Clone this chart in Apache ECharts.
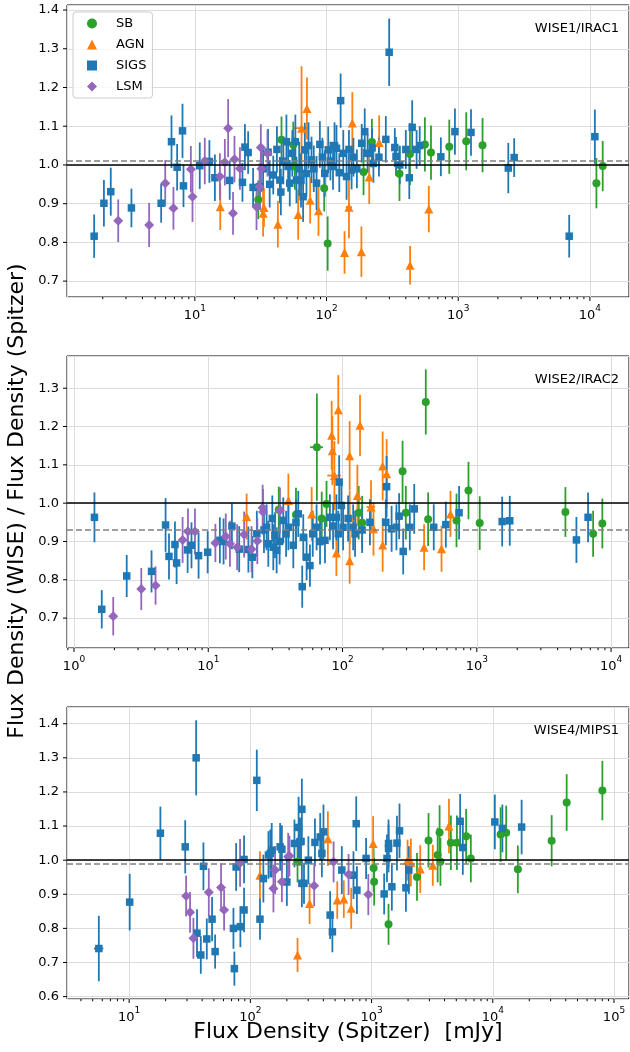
<!DOCTYPE html>
<html>
<head>
<meta charset="utf-8">
<title>WISE / Spitzer flux density ratios</title>
<script src="https://cdn.jsdelivr.net/npm/echarts@6/dist/echarts.min.js"></script>
<style>
  html, body { margin: 0; padding: 0; background: #fff; }
  #chart { width: 630px; height: 1052px; }
</style>
</head>
<body>
<div id="chart"></div>
<script>
// Each point: [Spitzer flux density (mJy), WISE/Spitzer ratio, ratio error, optional flux error]

// ---- WISE1 / IRAC1 ----
const W1_SB = [
  [30.3,0.910,0.05],[45.5,1.065,0.06],[55.9,1.052,0.06],[57.5,0.996,0.06],[96,0.940,0.06],
  [102,0.797,0.07],[191,0.982,0.06],[221,1.059,0.06],[358,0.977,0.07],[430,1.028,0.08],
  [558,1.053,0.07],[621,1.032,0.07],[855,1.047,0.07],[1150,1.061,0.075],[1530,1.051,0.07],
  [11200,0.953,0.065],[12500,0.997,0.065]
];
const W1_AGN = [
  [15.6,0.892,0.06],[33,0.875,0.06],[33.5,0.890,0.05],[42.7,0.847,0.06],[60.9,0.872,0.065],
  [64.6,1.095,0.16,8],[71,1.146,0.08],[75.1,0.909,0.06],[86.9,0.882,0.065],[137,0.774,0.055],
  [148,0.891,0.08,8],[157,1.108,0.08],[184,0.776,0.065],[211,0.969,0.07],[251,1.058,0.07],
  [431,0.741,0.05],[598,0.886,0.06]
];
const W1_SIGS = [
  [1.72,0.816,0.056],[2.04,0.901,0.06],[2.30,0.931,0.062],[3.30,0.889,0.05],[5.55,0.901,0.05],
  [6.65,1.060,0.068],[7.34,0.994,0.06],[8.06,1.088,0.07],[8.2,0.946,0.055],[10.9,0.998,0.06],
  [12.9,1.009,0.055],[14.2,0.967,0.06],[18.4,0.960,0.05],[23.0,0.955,0.05],[24.0,1.046,0.06],
  [25.4,1.032,0.055],[27.7,0.942,0.05],[31.2,0.944,0.06],[33,0.990,0.05],[36,1.033,0.06],
  [37,0.950,0.06],[39.4,0.974,0.05],[42,1.040,0.06],[44.2,0.961,0.06],[45,0.930,0.06],
  [47,1.010,0.06],[49.6,1.060,0.07],[51.1,0.996,0.065],[52.6,0.953,0.06],[55,1.030,0.06],
  [58,1.060,0.07],[59.1,0.961,0.06],[62,0.990,0.07],[64,0.960,0.07],[66.4,0.918,0.065],
  [68.4,1.039,0.07],[70.4,0.978,0.06],[73,1.050,0.06],[76.9,1.013,0.06],[80,0.990,0.06],
  [84,0.953,0.07],[89,1.053,0.06],[93,1.020,0.05],[97,0.978,0.06],[103,1.039,0.06],
  [107,1.010,0.05],[112,0.996,0.06],[115,1.050,0.06],[119,1.043,0.06],[125,0.980,0.05],
  [128,1.166,0.07],[134,1.030,0.06],[142,0.970,0.06],[148,1.040,0.05],[155,0.987,0.05],
  [160,1.020,0.05],[170,0.990,0.05],[185,1.056,0.05],[195,1.086,0.06],[205,1.030,0.05],
  [222,1.044,0.05],[227,1.004,0.05],[250,1.020,0.05],[282,1.066,0.06],[299,1.291,0.087],
  [330,1.045,0.05],[337,1.022,0.05],[360,1.000,0.05],[400,1.040,0.05],[425,0.967,0.055],
  [447,1.097,0.07],[483,1.040,0.05],[510,1.050,0.05],[738,1.021,0.05],[944,1.086,0.06],
  [1250,1.084,0.06],[2400,0.992,0.065],[2660,1.019,0.05],[6960,0.816,0.055],[10900,1.073,0.07]
];
const W1_LSM = [
  [2.62,0.856,0.055],[4.5,0.845,0.057],[5.96,0.953,0.06],[6.88,0.888,0.055],[9.33,0.989,0.06],
  [9.6,0.918,0.065],[11.9,1.010,0.06],[15.5,0.970,0.06],[16.9,1.007,0.06],[17.9,1.095,0.075],
  [19.5,0.875,0.055],[20,1.015,0.06],[22,0.991,0.055],[29.4,0.892,0.06],[31,0.944,0.06],
  [31.7,1.045,0.06],[32,0.990,0.06],[35.6,1.030,0.06]
];

// ---- WISE2 / IRAC2 ----
const W2_SB = [
  [33.5,0.983,0.06],[45,0.970,0.07],[64.4,1.146,0.14,7],[70,0.960,0.07],[76,0.998,0.06],
  [132,0.975,0.07],[140,0.949,0.07],[280,1.083,0.08],[296,0.975,0.07],[417,1.264,0.085],
  [434,0.958,0.07],[706,0.955,0.07],[867,1.033,0.075],[1051,0.948,0.07],[4570,0.977,0.065],
  [7350,0.920,0.06],[8610,0.947,0.065]
];
const W2_AGN = [
  [19.3,0.965,0.06],[39.5,1.007,0.07],[58.9,0.972,0.07],[83,1.177,0.09],[84,1.137,0.09],
  [87,1.072,0.09,10],[90,0.870,0.06],[93,1.244,0.09],[113,1.124,0.09],[113,0.963,0.07],
  [113,0.850,0.06],[129,1.020,0.08],[135,1.203,0.08],[163,0.990,0.07,12],[170,0.933,0.07],
  [199,1.097,0.09],[199,0.891,0.07],[213,1.077,0.09],[405,0.885,0.06],[546,0.881,0.06],
  [637,0.972,0.06]
];
const W2_SIGS = [
  [1.42,0.963,0.065],[1.61,0.723,0.05],[2.47,0.810,0.055],[3.78,0.822,0.055],[4.81,0.943,0.07],
  [5.1,0.861,0.06],[5.65,0.892,0.06],[5.81,0.844,0.055],[7.02,0.878,0.06],[7.5,0.890,0.06],
  [8.47,0.863,0.06],[9.9,0.872,0.055],[12.2,0.903,0.06],[13,0.900,0.06],[15,0.940,0.06],
  [17,0.880,0.06],[19.9,0.879,0.06],[21.3,0.859,0.055],[23,0.920,0.06],[26,0.930,0.06],
  [27.2,0.937,0.06],[28,0.894,0.06],[30,0.960,0.06],[30.5,0.885,0.06],[31.4,0.916,0.06],
  [32.3,0.877,0.06],[34,0.900,0.06],[36.2,0.955,0.06],[38,0.920,0.06],[39.5,0.937,0.06],
  [43,0.890,0.06],[45,0.950,0.06],[46.8,0.972,0.06],[50.1,0.782,0.055],[51,0.911,0.06],
  [54,0.859,0.06],[57.2,0.837,0.055],[60,0.920,0.06],[64.1,0.937,0.06],[68,0.900,0.06],
  [74,0.903,0.06],[80.5,0.963,0.06],[85,0.940,0.06],[90,0.963,0.06],[93,0.920,0.06],
  [94.4,1.055,0.07],[98,0.994,0.06],[101,0.937,0.06],[110,0.960,0.06],[120,0.937,0.06],
  [124,0.920,0.06],[140,0.930,0.06],[160,0.950,0.06],[210,0.950,0.06],[213,1.043,0.08],
  [232,0.933,0.06],[252,0.937,0.06],[264,0.966,0.06],[283,0.874,0.06],[317,0.937,0.06],
  [342,0.985,0.065],[478,0.937,0.06],[588,0.944,0.06],[738,0.975,0.07],[1545,0.952,0.065],
  [1760,0.954,0.065],[5520,0.904,0.06],[6740,0.963,0.065]
];
const W2_LSM = [
  [1.96,0.705,0.05],[3.17,0.776,0.055],[4.05,0.785,0.05],[6.44,0.904,0.06],[7.06,0.926,0.06],
  [7.96,0.926,0.06],[11.3,0.896,0.05],[13.5,0.913,0.06],[14.5,0.894,0.06],[16.4,0.885,0.06],
  [18.5,0.918,0.06],[21,0.880,0.06],[23.2,0.901,0.06],[25.4,0.988,0.06],[25.6,0.977,0.06],
  [34.2,0.981,0.06]
];

// ---- WISE4 / MIPS1 ----
const W4_SB = [
  [245,0.995,0.06],[1040,0.977,0.07],[1050,0.937,0.07],[1380,0.812,0.06],[2370,0.951,0.07],
  [2950,1.058,0.08],[3510,1.015,0.08],[3640,1.081,0.08],[3700,0.995,0.07],[4510,1.051,0.08],
  [5060,1.051,0.08],[6030,1.070,0.08],[6590,1.005,0.07],[11600,1.075,0.08],[12900,1.080,0.08],
  [16100,0.973,0.07],[30600,1.057,0.075],[40700,1.169,0.083],[80200,1.204,0.087]
];
const W4_AGN = [
  [120,0.956,0.07],[245,0.722,0.05],[308,0.873,0.06],[436,1.063,0.08],[521,0.883,0.055],
  [590,0.886,0.055],[679,0.859,0.06],[1030,1.049,0.08],[1980,1.000,0.06],[2110,0.993,0.07],
  [2520,0.974,0.07],[3200,0.985,0.06],[4350,1.100,0.08]
];
const W4_SIGS = [
  [5.62,0.741,0.096,0.5],[10.1,0.877,0.083],[18.1,1.079,0.078],[29,1.039,0.078],[35.7,1.300,0.11],
  [36.3,0.786,0.07],[39,0.722,0.055],[41,0.982,0.07],[43.7,0.769,0.06],[48.3,0.827,0.065],
  [51.2,0.732,0.05],[72.5,0.800,0.06],[73.8,0.682,0.05],[76.3,0.980,0.07],[82.7,0.805,0.06],
  [88.7,1.002,0.07],[88.7,0.854,0.065],[113,1.234,0.09],[120,0.827,0.06],[128,0.946,0.07],
  [141,1.015,0.07],[146,1.020,0.07],[150,1.029,0.08],[176,1.039,0.07],[182,1.032,0.07],
  [200,0.936,0.07],[231,1.049,0.07],[250,1.096,0.09],[256,1.054,0.07],[262,1.055,0.07],
  [266,1.149,0.09],[266,0.932,0.07],[277,0.932,0.06],[301,1.000,0.07],[341,1.052,0.07],
  [377,1.068,0.07],[389,1.020,0.07],[401,1.083,0.08],[455,0.839,0.07],[475,0.790,0.06],
  [568,0.971,0.07],[709,0.956,0.07],[747,1.107,0.08],[757,0.912,0.07],[901,1.005,0.06],
  [1270,0.901,0.06],[1340,1.005,0.07],[1380,1.049,0.07],[1380,1.034,0.07],[1470,0.922,0.07],
  [1620,1.050,0.08],[1700,1.086,0.08],[1920,0.919,0.07],[2030,0.971,0.07],[5380,1.114,0.08],
  [5660,1.037,0.08],[10400,1.112,0.08],[12000,1.093,0.07],[17300,1.097,0.08]
];
const W4_LSM = [
  [29.5,0.895,0.06],[31.8,0.847,0.06],[33.9,0.771,0.06],[45.4,0.906,0.07],[57.3,0.920,0.07],
  [60.7,0.854,0.06],[82.2,0.992,0.07],[155,0.917,0.07],[160,0.971,0.07],[182,0.937,0.06],
  [205,1.010,0.07],[210,1.012,0.06],[336,0.925,0.06],[486,0.995,0.06],[646,0.958,0.06],
  [940,0.899,0.06]
];

// Mean ratio of each band (dashed line)
const MEAN_RATIO = [1.006, 0.933, 0.992];
const PANEL_LABELS = ['WISE1/IRAC1', 'WISE2/IRAC2', 'WISE4/MIPS1'];
const CLASS_NAMES = ['SB', 'AGN', 'SIGS', 'LSM'];
const PANEL_DATA = [
  { SB: W1_SB, AGN: W1_AGN, SIGS: W1_SIGS, LSM: W1_LSM },
  { SB: W2_SB, AGN: W2_AGN, SIGS: W2_SIGS, LSM: W2_LSM },
  { SB: W4_SB, AGN: W4_AGN, SIGS: W4_SIGS, LSM: W4_LSM }
];
const X_RANGE = [[1.07, 19800], [0.887, 13600], [3.07, 133000]];
const Y_RANGE = [[0.659, 1.413], [0.622, 1.384], [0.593, 1.449]];

// Styling
const COLOR = { SB: '#2ca02c', AGN: '#ff7f0e', SIGS: '#1f77b4', LSM: '#9467bd' };
const SYMBOL = { SB: 'circle', AGN: 'triangle', SIGS: 'rect', LSM: 'diamond' };
const SYMBOL_SIZE = { SB: 8, AGN: 9, SIGS: 7.5, LSM: 10 };
const FONT = 'DejaVu Sans';
const GRID_TOPS = [5, 356, 707];
const GRID_LEFT = 67, GRID_W = 562, GRID_H = 292;
const LABEL_Y = [29, 380, 731];

const chart = echarts.init(document.getElementById('chart'), null, { renderer: 'canvas' });

function errRender(color) {
  return function (params, api) {
    const x = api.value(0), y = api.value(1), e = api.value(2), xe = api.value(3);
    const a = api.coord([x, y - e]), b = api.coord([x, y + e]);
    const style = { stroke: color, lineWidth: 1.8 };
    const children = [{ type: 'line', shape: { x1: a[0], y1: a[1], x2: b[0], y2: b[1] }, style }];
    if (xe > 0) {
      const c = api.coord([x - xe, y]), d = api.coord([x + xe, y]);
      children.push({ type: 'line', shape: { x1: c[0], y1: c[1], x2: d[0], y2: d[1] }, style });
    }
    return { type: 'group', children };
  };
}

// Tick marks on the log x axis (majors at decades, minors at 2..9) and on the y axis
function xTickValues(range) {
  const out = [];
  for (let k = Math.floor(Math.log10(range[0])); k <= Math.ceil(Math.log10(range[1])); k++) {
    for (let m = 1; m <= 9; m++) {
      const v = m * Math.pow(10, k);
      if (v >= range[0] && v <= range[1]) out.push([v, m === 1 ? 1 : 0]);
    }
  }
  return out;
}
function yTickValues(range) {
  const out = [];
  for (let t = Math.ceil(range[0] * 10); t <= Math.floor(range[1] * 10); t++) out.push(t / 10);
  return out;
}

const grids = [], xAxes = [], yAxes = [], series = [], graphics = [];

PANEL_DATA.forEach((panel, i) => {
  grids.push({
    left: GRID_LEFT, top: GRID_TOPS[i], width: GRID_W, height: GRID_H,
    show: true, borderColor: '#000', borderWidth: 1, backgroundColor: 'transparent'
  });
  xAxes.push({
    gridIndex: i, type: 'log', logBase: 10, min: X_RANGE[i][0], max: X_RANGE[i][1],
    axisLine: { show: false }, axisTick: { show: false },
    splitLine: { show: true, lineStyle: { color: '#dcdcdc', width: 1 } },
    axisLabel: {
      margin: 7, showMinLabel: false, showMaxLabel: false,
      formatter: function (v) {
        const e = Math.log10(v), r = Math.round(e);
        if (Math.abs(e - r) > 1e-6) return '';
        return '{b|10}{s|' + r + '}';
      },
      rich: {
        b: { fontSize: 13, fontFamily: FONT, color: '#000', lineHeight: 18, verticalAlign: 'bottom' },
        s: { fontSize: 9, fontFamily: FONT, color: '#000', lineHeight: 18, verticalAlign: 'top' }
      }
    }
  });
  yAxes.push({
    gridIndex: i, type: 'value', min: Y_RANGE[i][0], max: Y_RANGE[i][1], splitNumber: 8,
    axisLine: { show: false }, axisTick: { show: false },
    splitLine: { show: true, lineStyle: { color: '#dcdcdc', width: 1 } },
    axisLabel: {
      margin: 8, fontSize: 13, fontFamily: FONT, color: '#000',
      showMinLabel: false, showMaxLabel: false,
      formatter: function (v) {
        const r = Math.round(v * 10) / 10;
        return Math.abs(v - r) < 1e-6 ? r.toFixed(1) : '';
      }
    }
  });

  // error bars and markers, one pair per class
  CLASS_NAMES.forEach((cls) => {
    const pts = panel[cls].map(p => [p[0], p[1], p[2], p[3] || 0]);
    series.push({
      type: 'custom', name: cls + ' error', xAxisIndex: i, yAxisIndex: i,
      renderItem: errRender(COLOR[cls]), data: pts, encode: { x: 0, y: 1 },
      silent: true, z: 2
    });
    series.push({
      type: 'scatter', name: cls, xAxisIndex: i, yAxisIndex: i,
      symbol: SYMBOL[cls], symbolSize: SYMBOL_SIZE[cls],
      itemStyle: { color: COLOR[cls], opacity: 1 },
      data: pts.map(p => [p[0], p[1]]), silent: true, z: 2
    });
  });

  // reference lines: unity and band mean
  series.push({
    type: 'scatter', name: 'ref' + i, xAxisIndex: i, yAxisIndex: i, data: [], z: 5, silent: true,
    markLine: {
      silent: true, symbol: 'none', label: { show: false }, animation: false,
      data: [
        { yAxis: MEAN_RATIO[i], lineStyle: { color: '#808080', type: [6, 3], width: 1.5 } },
        { yAxis: 1.0, lineStyle: { color: '#000', type: 'solid', width: 1.5 } }
      ]
    }
  });

  // tick marks
  series.push({
    type: 'custom', name: 'xticks' + i, xAxisIndex: i, yAxisIndex: i, silent: true, z: 6,
    data: xTickValues(X_RANGE[i]).map(t => [t[0], Y_RANGE[i][0], t[1]]),
    encode: { x: 0, y: 1 },
    renderItem: function (params, api) {
      const p = api.coord([api.value(0), api.value(1)]);
      const len = api.value(2) ? 4 : 2.2;
      return { type: 'line', shape: { x1: p[0], y1: p[1], x2: p[0], y2: p[1] + len },
               style: { stroke: '#000', lineWidth: 1 } };
    }
  });
  series.push({
    type: 'custom', name: 'yticks' + i, xAxisIndex: i, yAxisIndex: i, silent: true, z: 6,
    data: yTickValues(Y_RANGE[i]).map(v => [X_RANGE[i][0], v]),
    encode: { x: 0, y: 1 },
    renderItem: function (params, api) {
      const p = api.coord([api.value(0), api.value(1)]);
      return { type: 'line', shape: { x1: p[0] - 4, y1: p[1], x2: p[0], y2: p[1] },
               style: { stroke: '#000', lineWidth: 1 } };
    }
  });

  graphics.push({
    type: 'text', x: 619, y: LABEL_Y[i], z: 10,
    style: { text: PANEL_LABELS[i], align: 'right', verticalAlign: 'middle',
             fontSize: 13, fontFamily: FONT, fill: '#000' }
  });
});

graphics.push({
  type: 'text', x: 17, y: 501, rotation: Math.PI / 2, z: 10,
  style: { text: 'Flux Density (WISE) / Flux Density (Spitzer)', align: 'center', verticalAlign: 'middle',
           fontSize: 22, fontFamily: FONT, fill: '#000' }
});
graphics.push({
  type: 'text', x: 348, y: 1032, z: 10,
  style: { text: 'Flux Density (Spitzer)  [mJy]', align: 'center', verticalAlign: 'middle',
           fontSize: 22, fontFamily: FONT, fill: '#000' }
});

chart.setOption({
  animation: false,
  backgroundColor: '#fff',
  grid: grids,
  xAxis: xAxes,
  yAxis: yAxes,
  legend: {
    data: CLASS_NAMES, orient: 'vertical', left: 73, top: 12,
    itemWidth: 10, itemHeight: 10, itemGap: 8, selectedMode: false,
    padding: [5, 6, 5, 14],
    borderColor: '#cccccc', borderWidth: 1, borderRadius: 3,
    backgroundColor: 'rgba(255,255,255,0.8)',
    textStyle: { fontSize: 13, fontFamily: FONT, color: '#000', lineHeight: 12, padding: [0, 0, 0, 14] }
  },
  graphic: graphics,
  series: series
});
</script>
</body>
</html>
